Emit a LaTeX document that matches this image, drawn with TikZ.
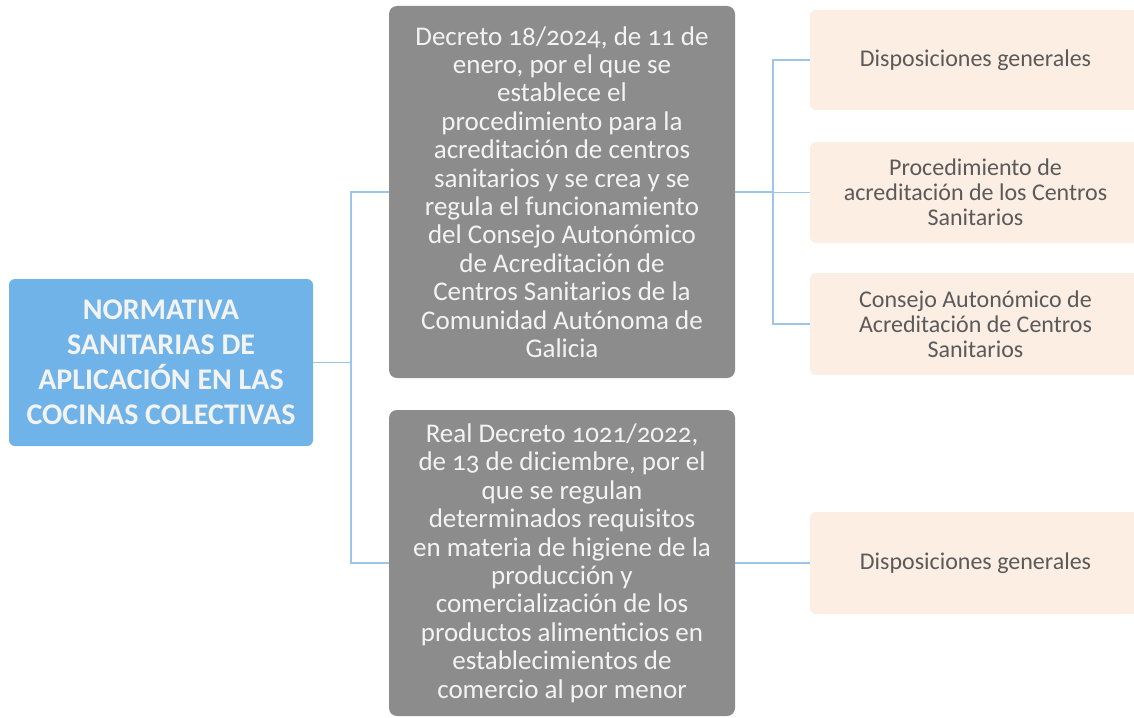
\documentclass[tikz,border=0pt]{standalone}
\usepackage{fontspec}
\setmainfont[Numbers=OldStyle]{Carlito}
\usepackage{tikz}
\usetikzlibrary{calc}
\definecolor{rootblue}{RGB}{112,179,232}
\definecolor{lawgray}{RGB}{140,140,140}
\definecolor{peach}{RGB}{252,238,227}
\definecolor{linkblue}{RGB}{157,197,232}
\definecolor{softwhite}{RGB}{243,243,243}
\definecolor{darktext}{RGB}{90,90,90}
\tikzset{
	rootbox/.style={rectangle, rounded corners=6pt, fill=rootblue, text=softwhite, inner sep=0pt, align=center,
		minimum width=304pt, minimum height=167pt, font=\fontsize{30}{35}\selectfont\bfseries},
	lawbox/.style={rectangle, rounded corners=8pt, fill=lawgray, text=softwhite, inner sep=0pt, align=center,
		minimum width=346pt, font=\fontsize{27}{28.4}\selectfont},
	itembox/.style={rectangle, rounded corners=6pt, fill=peach, text=darktext, inner sep=0pt, align=center,
		minimum width=331pt, font=\fontsize{24}{25}\selectfont},
	link/.style={draw=linkblue, line width=1.6pt}
}

\begin{document}
\begin{tikzpicture}[x=1pt, y=-1pt]
		%%%%% START %%%%%
		\useasboundingbox (0, 0) rectangle (1134, 717);
		\clip (0, 0) rectangle (1134, 717);
		
		% root
		\node[rootbox] (root) at (161, 362.5) {NORMATIVA\\SANITARIAS DE\\APLICACIÓN EN LAS\\COCINAS COLECTIVAS};
		
		% the two decrees
		\node[lawbox, minimum height=372pt] (dec1) at (562, 192) {Decreto 18/2024, de 11 de\\enero, por el que se\\establece el\\procedimiento para la\\acreditación de centros\\sanitarios y se crea y se\\regula el funcionamiento\\del Consejo Autonómico\\de Acreditación de\\Centros Sanitarios de la\\Comunidad Autónoma de\\Galicia};
		\node[lawbox, minimum height=306pt] (dec2) at (562, 563) {Real Decreto 1021/2022,\\de 13 de diciembre, por el\\que se regulan\\determinados requisitos\\en materia de higiene de la\\producción y\\comercialización de los\\productos alimenticios en\\establecimientos de\\comercio al por menor};
		
		% sections
		\node[itembox, minimum height=100pt] (gen1) at (975.5, 60) {Disposiciones generales};
		\node[itembox, minimum height=101pt] (proc) at (975.5, 192.5) {Procedimiento de\\acreditación de los Centros\\Sanitarios};
		\node[itembox, minimum height=102pt] (cons) at (975.5, 324) {Consejo Autonómico de\\Acreditación de Centros\\Sanitarios};
		\node[itembox, minimum height=102pt] (gen2) at (975.5, 563) {Disposiciones generales};
		
		% connectors
		\coordinate (fork1) at ($(root.east)+(38, 0)$);
		\coordinate (fork2) at ($(dec1.east)+(38, 0)$);
		\draw[link] (root.east) -- (fork1);
		\draw[link] (fork1) |- (dec1.west);
		\draw[link] (fork1) |- (dec2.west);
		\draw[link] (dec1.east) -- (fork2);
		\draw[link] (fork2) |- (gen1.west);
		\draw[link] (fork2) |- (proc.west);
		\draw[link] (fork2) |- (cons.west);
		\draw[link] (dec2.east) -- (gen2.west);
		
		%%%%% END %%%%%
\end{tikzpicture}
\end{document}
